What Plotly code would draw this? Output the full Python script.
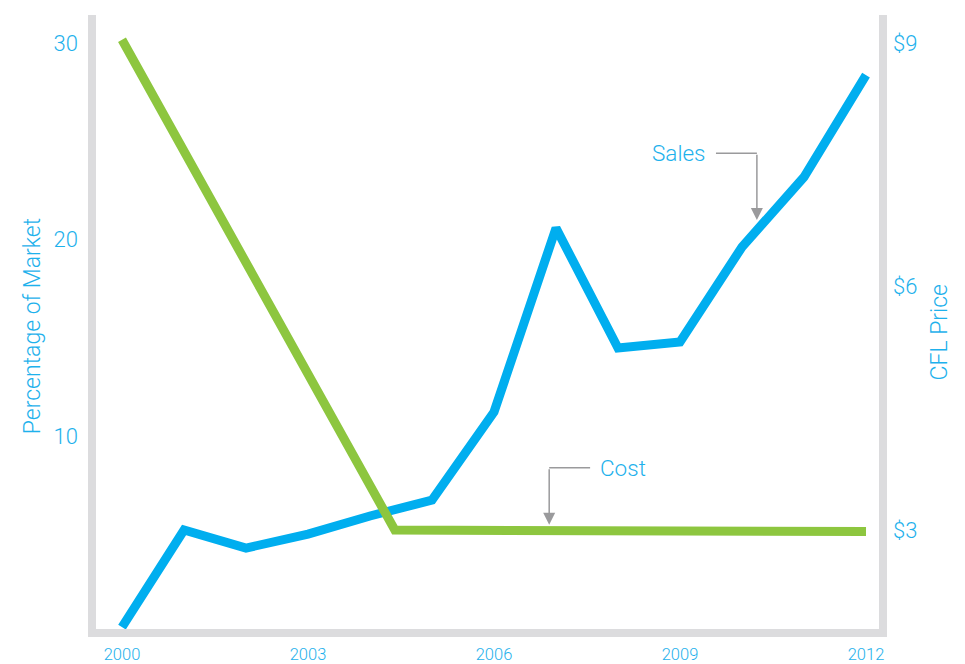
import plotly.graph_objects as go

years = [2000, 2001, 2002, 2003, 2004, 2005, 2006, 2007, 2008, 2009, 2010, 2011, 2012]
sales_pct = [0.3, 5.24, 4.32, 5.03, 5.95, 6.76, 11.24, 20.59, 14.49, 14.8, 19.63, 23.19, 28.37]
cost_years = [2000, 2004.4, 2012]
cost_price = [9.04, 3.0, 2.98]

x_ticks = [2000, 2003, 2006, 2009, 2012]
left_ticks = [10, 20, 30]
right_ticks = [3, 6, 9]
right_tick_text = ["$3", "$6", "$9"]

TXT = "#1eb1ec"
BLUE = "#00aeef"
GREEN = "#8dc63f"
GRAY = "#dcdcde"
ARROW = "#9a9a9c"
FONT = "Roboto, Liberation Sans, sans-serif"
W = 300

fig = go.Figure()
fig.add_trace(go.Scatter(x=years, y=sales_pct, mode="lines", name="Sales",
                         line=dict(color=BLUE, width=9), yaxis="y"))
fig.add_trace(go.Scatter(x=cost_years, y=cost_price, mode="lines", name="Cost",
                         line=dict(color=GREEN, width=9), yaxis="y2"))

# page body has an 8px default margin, so margins are shifted by 8px
fig.update_layout(
    width=965, height=664,
    margin=dict(l=84, r=90, t=4, b=39),
    paper_bgcolor="white", plot_bgcolor="white",
    showlegend=False,
    font=dict(family=FONT, color=TXT, weight=W),
    xaxis=dict(range=[1999.516, 2012.274], tickvals=x_ticks, showgrid=False,
               zeroline=False, showline=False, ticks="",
               tickfont=dict(size=16.5, color=TXT, weight=W), ticklabelstandoff=9),
    yaxis=dict(range=[0, 31.58], tickvals=left_ticks, showgrid=False,
               zeroline=False, showline=False, ticks="",
               tickfont=dict(size=22, color=TXT, weight=W), ticklabelstandoff=13),
    yaxis2=dict(range=[1.731, 9.382], tickvals=right_ticks, ticktext=right_tick_text,
                overlaying="y", side="right", showgrid=False, zeroline=False,
                showline=False, ticks="", tickfont=dict(size=22, color=TXT, weight=W),
                ticklabelstandoff=9),
)

# frame lines
fig.add_shape(type="line", xref="paper", yref="paper", x0=0, x1=0, y0=-0.006, y1=0.995,
              line=dict(color=GRAY, width=8))
fig.add_shape(type="line", xref="paper", yref="paper", x0=1, x1=1, y0=-0.006, y1=0.995,
              line=dict(color=GRAY, width=8))
fig.add_shape(type="line", xref="paper", yref="paper", x0=-0.005, x1=1.005, y0=0, y1=0,
              line=dict(color=GRAY, width=8))

# axis titles
fig.add_annotation(text="Percentage of Market", xref="paper", yref="paper",
                   x=-0.0759, y=0.494, xanchor="center", yanchor="middle",
                   textangle=-90, showarrow=False,
                   font=dict(size=23, color=TXT, weight=W))
fig.add_annotation(text="CFL Price", xref="paper", yref="paper",
                   x=1.0708, y=0.484, xanchor="center", yanchor="middle",
                   textangle=-90, showarrow=False,
                   font=dict(size=23, color=TXT, weight=W))

# Sales callout
fig.add_annotation(text="Sales", x=2009.45, y=24.4, xref="x", yref="y",
                   xanchor="right", yanchor="middle", showarrow=False,
                   font=dict(size=22.5, color=TXT, weight=W))
fig.add_shape(type="line", xref="x", yref="y", x0=2009.58, x1=2010.24, y0=24.4, y1=24.4,
              line=dict(color=ARROW, width=1.5))
fig.add_annotation(text="", x=2010.24, y=21.0, ax=2010.24, ay=24.4,
                   xref="x", yref="y", axref="x", ayref="y", showarrow=True,
                   arrowhead=2, arrowsize=1.6, arrowwidth=1.5, arrowcolor=ARROW)

# Cost callout
fig.add_annotation(text="Cost", x=2007.68, y=8.4, xref="x", yref="y",
                   xanchor="left", yanchor="middle", showarrow=False,
                   font=dict(size=22.5, color=TXT, weight=W))
fig.add_shape(type="line", xref="x", yref="y", x0=2006.89, x1=2007.55, y0=8.4, y1=8.4,
              line=dict(color=ARROW, width=1.5))
fig.add_annotation(text="", x=2006.89, y=5.5, ax=2006.89, ay=8.4,
                   xref="x", yref="y", axref="x", ayref="y", showarrow=True,
                   arrowhead=2, arrowsize=1.6, arrowwidth=1.5, arrowcolor=ARROW)

fig.write_html("out.html")
